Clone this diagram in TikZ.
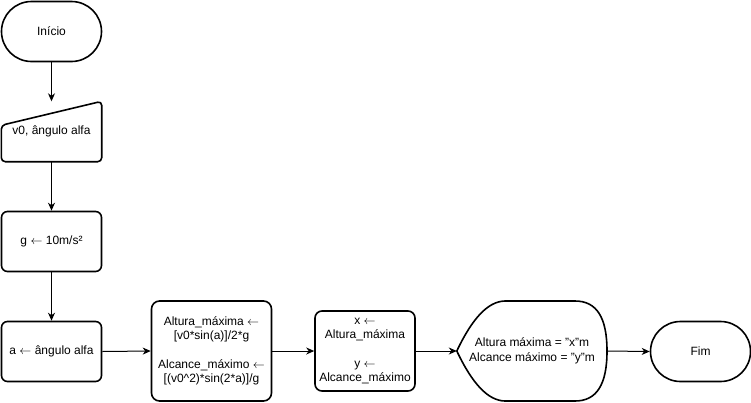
\documentclass[tikz,border=0pt]{standalone}
\usepackage{fontspec}
\setmainfont{Liberation Sans}[Ligatures=ResetAll]
\usetikzlibrary{arrows.meta,shapes.misc}
\newcommand{\larr}{$\leftarrow$}
\begin{document}
\begin{tikzpicture}[x=1pt,y=-1pt,
  every node/.style={font=\fontsize{12}{14.4}\selectfont, inner sep=0pt, align=center},
  shapeline/.style={line width=1.6pt, draw=black},
  term/.style={shapeline, rounded rectangle, minimum width=100pt, minimum height=60pt},
  procbox/.style={shapeline, rectangle, rounded corners=6pt},
  bbox/.style={rectangle, minimum width=100pt, minimum height=60pt},
  conn/.style={line width=1pt, -{Stealth[length=8pt,width=7pt,inset=2.5pt]}}
]
\useasboundingbox (0,0) rectangle (751,402);

\node[term] (start) at (51.5,31.5) {Início};

\node[bbox] (inp) at (51.5,131.5) {\raisebox{-3pt}{v0, ângulo alfa}};
\draw[shapeline, rounded corners=4pt] ([yshift=-24pt]inp.north west) -- (inp.north east) -- (inp.south east) -- (inp.south west) -- cycle;

\node[procbox, minimum width=100pt, minimum height=60pt] (g) at (51.5,241.5) {g \larr{} 10m/s²};

\node[procbox, minimum width=100pt, minimum height=60pt] (a) at (51.5,351.5) {a \larr{} ângulo alfa};

\node[procbox, rounded corners=8pt, minimum width=120pt, minimum height=100pt] (alt) at (211.5,351) {Altura\_máxima \larr\\{}[v0*sin(a)]/2*g\\[14.4pt]Alcance\_máximo \larr\\{}[(v0\textasciicircum 2)*sin(2*a)]/g};

\node[procbox, rounded corners=7pt, minimum width=100pt, minimum height=80pt] (xb) at (365,351) {x \larr\\Altura\_máxima\\[14.4pt]y \larr\\Alcance\_máximo};

\node[rectangle, minimum width=150pt, minimum height=100pt] (disp) at (532,351) {Altura máxima = "x"m\\Alcance máximo = "y"m};
\draw[shapeline] (disp.west) .. controls (472.3,318.3) and (488,301.3) .. (505,301)
  -- (575,301) .. controls (597,301) and (607,318) .. (607,351)
  .. controls (607,384) and (597,401) .. (575,401)
  -- (505,401) .. controls (488,400.7) and (472.3,383.7) .. (disp.west) -- cycle;

\node[term] (fim) at (700.5,351.5) {Fim};

\draw[conn] (start.south) -- (inp.north);
\draw[conn] (inp.south) -- (g.north);
\draw[conn] (g.south) -- (a.north);
\draw[conn] (a.east) -- (alt.west);
\draw[conn] (alt.east) -- (xb.west);
\draw[conn] (xb.east) -- (disp.west);
\draw[conn] (disp.east) -- (fim.west);
\end{tikzpicture}
\end{document}
